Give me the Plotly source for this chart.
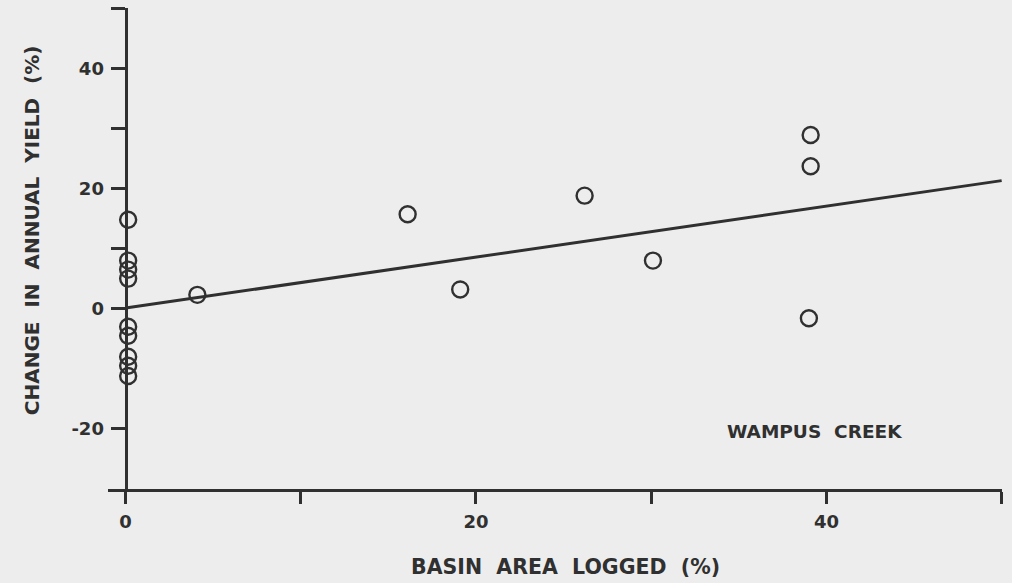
import plotly.graph_objects as go

# ---- data ----
basin_area_logged = [0.15, 0.15, 0.15, 0.15, 0.15, 0.15, 0.15, 0.15, 0.15,
                     4.1, 16.1, 19.1, 26.2, 30.1, 39.1, 39.1, 39.0]
yield_change = [14.8, 8.0, 6.5, 5.0, -3.0, -4.5, -8.0, -9.5, -11.2,
                2.3, 15.7, 3.2, 18.8, 8.0, 28.9, 23.7, -1.6]

fit_x = [0, 50]
fit_y = [0.1, 21.3]

x_tickvals = [0, 10, 20, 30, 40, 50]
x_ticktext = ["0", "", "20", "", "40", ""]
y_tickvals = [-20, 0, 10, 20, 30, 40, 50]
y_ticktext = ["-20", "0", "", "20", "", "40", ""]

x_title = "BASIN\u00a0 AREA\u00a0 LOGGED\u00a0 (%)"
y_title = "CHANGE\u00a0 IN\u00a0 ANNUAL\u00a0 YIELD\u00a0 (%)"
label = "WAMPUS\u00a0 CREEK"

# ---- style ----
INK = "#303030"
BG = "#ededed"
FONT = "DejaVu Sans"

fig = go.Figure()
fig.add_trace(go.Scatter(
    x=fit_x, y=fit_y, mode="lines",
    line=dict(color=INK, width=3), hoverinfo="skip", showlegend=False))
fig.add_trace(go.Scatter(
    x=basin_area_logged, y=yield_change, mode="markers",
    marker=dict(symbol="circle-open", size=16, color=INK,
                line=dict(width=2.4, color=INK)),
    showlegend=False, cliponaxis=False))

fig.add_annotation(x=39.3, y=-20.5, xref="x", yref="y", text=label,
                   showarrow=False, font=dict(family=FONT, size=18.5, color=INK,
                                              weight="bold"))
fig.add_annotation(x=0.512, y=-0.162, xref="paper", yref="paper", text=x_title,
                   showarrow=False, xanchor="center", yanchor="middle",
                   font=dict(family=FONT, size=20.5, color=INK, weight="bold"))
fig.add_annotation(x=-0.085, y=0.538, xref="paper", yref="paper", text=y_title,
                   showarrow=False, textangle=-90, xanchor="center", yanchor="middle",
                   font=dict(family=FONT, size=20, color=INK, weight="bold"))

fig.update_layout(
    width=1012, height=583,
    margin=dict(l=108, r=10, t=8, b=94, pad=0),
    paper_bgcolor=BG, plot_bgcolor=BG,
    font=dict(family=FONT, size=18, color=INK, weight="bold"),
    xaxis=dict(range=[-1, 50.02], tickvals=x_tickvals, ticktext=x_ticktext,
               showgrid=False, zeroline=False, showline=True, linecolor=INK,
               linewidth=3, ticks="outside", ticklen=12, tickwidth=2.5,
               tickcolor=INK, ticklabelstandoff=2,
               tickfont=dict(family=FONT, size=18, color=INK, weight="bold")),
    yaxis=dict(range=[-30, 50.02], tickvals=y_tickvals, ticktext=y_ticktext,
               anchor="free", position=1 / 51.02,
               showgrid=False, zeroline=False, showline=True, linecolor=INK,
               linewidth=3, ticks="outside", ticklen=14, tickwidth=2.5,
               tickcolor=INK, ticklabelstandoff=3,
               tickfont=dict(family=FONT, size=18, color=INK, weight="bold")),
)

fig.write_html("out.html")
